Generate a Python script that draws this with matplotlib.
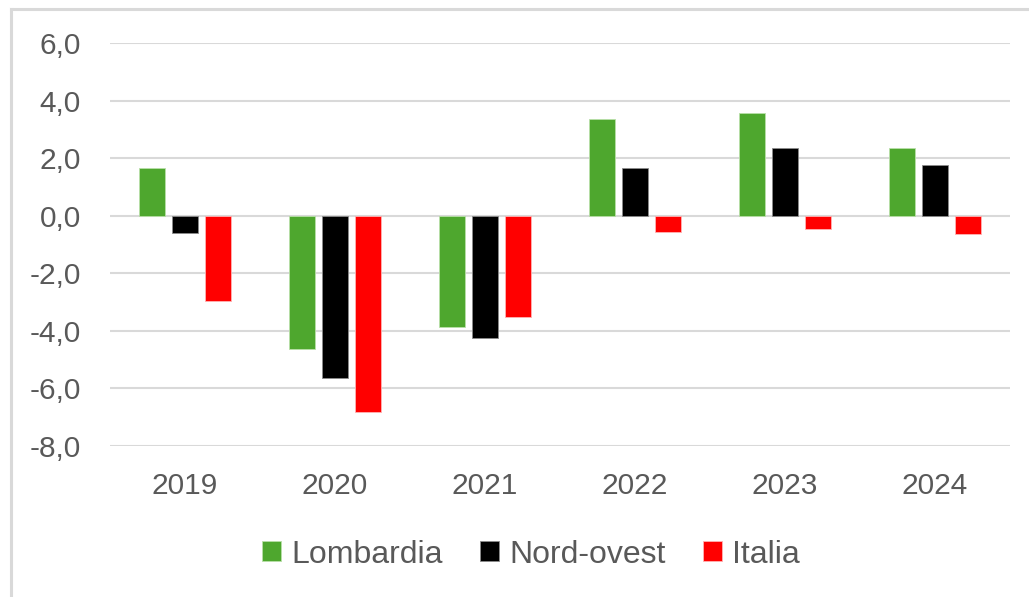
import numpy as np
import matplotlib
matplotlib.use("Agg")
import matplotlib.pyplot as plt
from matplotlib.lines import Line2D

years = ["2019", "2020", "2021", "2022", "2023", "2024"]
lombardia = [1.66, -4.64, -3.87, 3.37, 3.57, 2.34]
nord_ovest = [-0.60, -5.65, -4.23, 1.66, 2.34, 1.75]
italia = [-2.96, -6.83, -3.52, -0.57, -0.46, -0.65]

series = [("Lombardia", lombardia, "#4ea72e", "#b9e0a8"),
          ("Nord-ovest", nord_ovest, "#000000", "#8c8c8c"),
          ("Italia", italia, "#ff0000", "#ffb3b3")]

plt.rcParams['font.family'] = ['Liberation Sans', 'DejaVu Sans']
txt = "#595959"

fig = plt.figure(figsize=(10.29, 5.97), dpi=100)
ax = fig.add_axes([0.1069, 0.2529, 0.8746, 0.675])

x = np.arange(len(years))
w = 0.173
step = 0.22
for i, (name, vals, col, edge) in enumerate(series):
    ax.bar(x + (i - 1) * step, vals, width=w, color=col, edgecolor=edge,
           linewidth=0.6, label=name, zorder=3)

ax.set_xlim(-0.5, len(years) - 0.5)
ax.set_ylim(-8, 6)
ax.set_yticks(np.arange(-8, 7, 2))
ax.set_yticklabels([f"{v:.1f}".replace(".", ",") for v in np.arange(-8, 7, 2)])
ax.set_xticks(x)
ax.set_xticklabels(years)
ax.grid(axis="y", color="#d9d9d9", linewidth=1.5, zorder=0)
ax.tick_params(axis="both", length=0, labelsize=21.5, labelcolor=txt)
ax.tick_params(axis="y", pad=21)
ax.tick_params(axis="x", pad=19)
for s in ax.spines.values():
    s.set_visible(False)

fig.legend(loc="center", bbox_to_anchor=(0.516, 0.071), ncol=3, frameon=False,
           fontsize=23, labelcolor=txt, handlelength=0.6, handleheight=0.6,
           handletextpad=0.32, columnspacing=1.16)

# outer chart frame
fig.add_artist(Line2D([11 / 1029, 1.0], [1 - 9 / 597, 1 - 9 / 597],
                      color="#d9d9d9", linewidth=2.2, transform=fig.transFigure))
fig.add_artist(Line2D([11 / 1029, 11 / 1029], [0.0, 1 - 9 / 597],
                      color="#d9d9d9", linewidth=2.2, transform=fig.transFigure))

fig.savefig("out.png", dpi=100, facecolor="white")
